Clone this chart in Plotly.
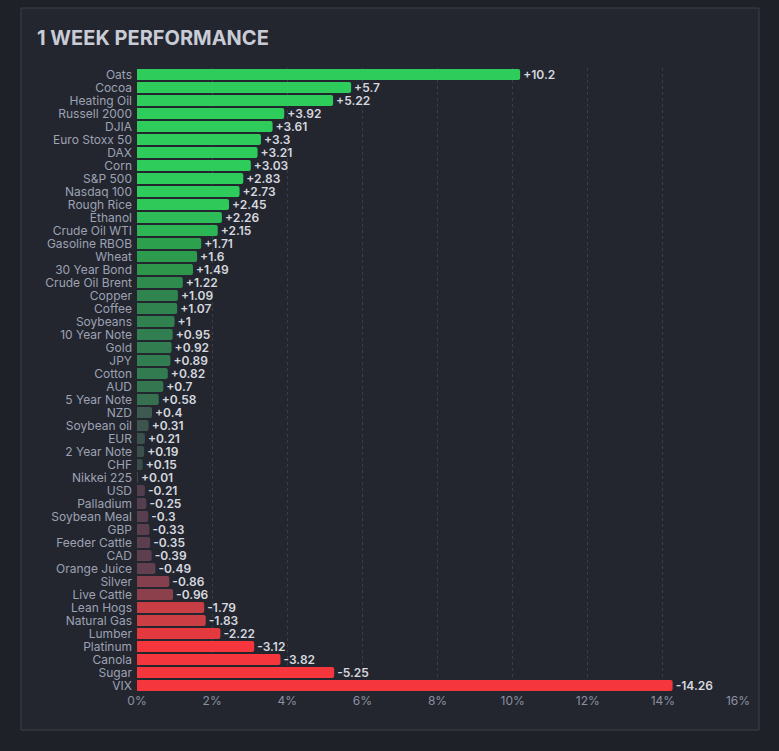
import plotly.graph_objects as go

# one week change, in percent
markets = [
    "Oats", "Cocoa", "Heating Oil", "Russell 2000", "DJIA", "Euro Stoxx 50", "DAX",
    "Corn", "S&P 500", "Nasdaq 100", "Rough Rice", "Ethanol", "Crude Oil WTI",
    "Gasoline RBOB", "Wheat", "30 Year Bond", "Crude Oil Brent", "Copper", "Coffee",
    "Soybeans", "10 Year Note", "Gold", "JPY", "Cotton", "AUD", "5 Year Note", "NZD",
    "Soybean oil", "EUR", "2 Year Note", "CHF", "Nikkei 225", "USD", "Palladium",
    "Soybean Meal", "GBP", "Feeder Cattle", "CAD", "Orange Juice", "Silver",
    "Live Cattle", "Lean Hogs", "Natural Gas", "Lumber", "Platinum", "Canola",
    "Sugar", "VIX",
]
changes = [
    10.2, 5.7, 5.22, 3.92, 3.61, 3.3, 3.21, 3.03, 2.83, 2.73, 2.45, 2.26, 2.15,
    1.71, 1.6, 1.49, 1.22, 1.09, 1.07, 1.0, 0.95, 0.92, 0.89, 0.82, 0.7, 0.58, 0.4,
    0.31, 0.21, 0.19, 0.15, 0.01, -0.21, -0.25, -0.3, -0.33, -0.35, -0.39, -0.49,
    -0.86, -0.96, -1.79, -1.83, -2.22, -3.12, -3.82, -5.25, -14.26,
]
x_ticks = [0, 2, 4, 6, 8, 10, 12, 14, 16]

PAGE_BG = "#1e2128"
CARD_BG = "#23262f"

# red -> grey -> green, clipped at +/-2.5
perf_scale = [
    [0.0, "#f5363c"],
    [0.14, "#c83e44"],
    [0.32, "#87404b"],
    [0.40, "#644050"],
    [0.46, "#523e4e"],
    [0.50, "#454449"],
    [0.53, "#3b4d4b"],
    [0.58, "#3e5a50"],
    [0.62, "#35734f"],
    [0.70, "#308050"],
    [0.80, "#2d964b"],
    [0.93, "#2cb455"],
    [1.0, "#2ecc5a"],
]

labels = [("+" if v >= 0 else "") + f"{v:g}" for v in changes]

fig = go.Figure()
fig.add_trace(go.Bar(
    y=markets,
    x=[abs(v) for v in changes],
    orientation="h",
    marker=dict(
        color=changes,
        colorscale=perf_scale,
        cmin=-2.5,
        cmax=2.5,
        line=dict(width=0),
        cornerradius=2,
    ),
    text=labels,
    textposition="outside",
    constraintext="none",
    textfont=dict(family="Inter", size=12, color="#d6d8df", weight=600),
    cliponaxis=False,
    hoverinfo="skip",
))

# card behind the chart
fig.add_shape(
    type="rect", xref="paper", yref="paper", layer="below",
    x0=-116 / 601, x1=1 + 21 / 601, y0=-38 / 624, y1=1 + 60 / 624,
    fillcolor=CARD_BG, line=dict(color="#3d404a", width=1),
)

fig.update_layout(
    width=779,
    height=751,
    paper_bgcolor=PAGE_BG,
    plot_bgcolor=CARD_BG,
    margin=dict(l=137, r=41, t=68, b=59),
    bargap=0.15,
    showlegend=False,
    title=dict(
        text="1 WEEK PERFORMANCE",
        x=37 / 779, xref="container", xanchor="left",
        y=1 - 38 / 751, yref="container", yanchor="middle",
        font=dict(family="Inter", size=20, color="#c9ccd6", weight=700),
    ),
    font=dict(family="Inter", color="#8c91a1", size=12),
)
fig.update_xaxes(
    range=[0, 16],
    tickvals=x_ticks,
    ticktext=[f"{t}%" for t in x_ticks],
    showgrid=True,
    gridcolor="#3a3e4a",
    griddash="3px,3px",
    gridwidth=1,
    zeroline=False,
    showline=False,
    tickfont=dict(size=12, color="#8c91a1"),
    fixedrange=True,
)
fig.update_yaxes(
    autorange="reversed",
    tickmode="array",
    tickvals=markets,
    showgrid=False,
    ticks="",
    ticklabelstandoff=4,
    tickfont=dict(size=12, color="#9da2b3"),
    fixedrange=True,
)

# drop the default body margin so the figure fills the window
fig.write_html(
    "out.html",
    config={"displayModeBar": False},
    post_script="document.body.style.margin='0';document.body.style.background='%s';" % PAGE_BG,
)
